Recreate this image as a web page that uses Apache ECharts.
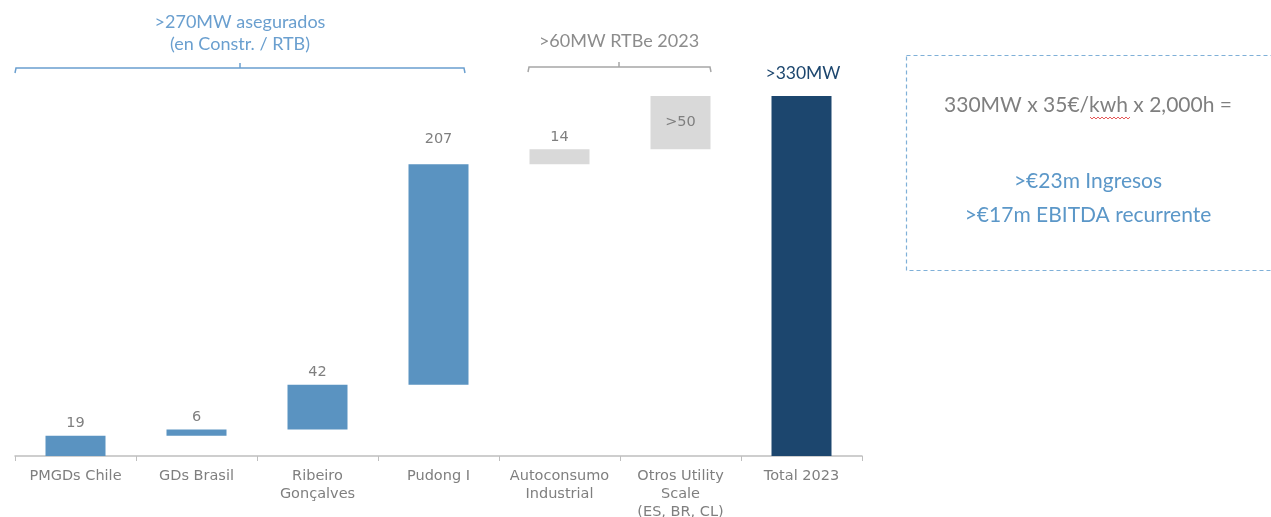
<!DOCTYPE html>
<html>
<head>
<meta charset="utf-8">
<script src="https://cdn.jsdelivr.net/npm/echarts@6/dist/echarts.min.js"></script>
<style>
  html, body { margin: 0; padding: 0; background: #fff; }
  #chart { width: 1271px; height: 517px; }
</style>
</head>
<body>
<div id="chart"></div>
<script>
const categories = ['PMGDs Chile', 'GDs Brasil', 'Ribeiro\nGonçalves', 'Pudong I', 'Autoconsumo\nIndustrial', 'Otros Utility\nScale\n(ES, BR, CL)', 'Total 2023'];
const steps = [19, 6, 42, 207, 14, 50];
const stepLabels = ['19', '6', '42', '207', '14', '>50'];
const totalLabel = '>330MW';

const BLUE = '#5a93c1';
const GREY = '#d9d9d9';
const NAVY = '#1c466e';

// waterfall: invisible base + visible step, total computed from steps
const total = steps.reduce((a, b) => a + b, 0);
const base = [];
let run = 0;
steps.forEach((v) => { base.push(run); run += v; });
base.push(0);

const visible = steps.map((v, i) => ({
  value: v,
  itemStyle: { color: i < 4 ? BLUE : GREY },
  label: i === 5
    ? { show: true, position: 'inside', formatter: stepLabels[i] }
    : { show: true, position: 'top', distance: i === 3 ? 17 : 5, formatter: stepLabels[i] },
}));
visible.push({ value: total, itemStyle: { color: NAVY }, label: { show: false } });

const chart = echarts.init(document.getElementById('chart'));

const option = {
  animation: false,
  grid: { left: 15, right: 409, top: 30, bottom: 61, outerBoundsMode: 'none' },
  xAxis: {
    type: 'category',
    data: categories,
    axisLine: { lineStyle: { color: '#bfbfbf', width: 1.5 } },
    axisTick: { show: true, length: 5, lineStyle: { color: '#bfbfbf' } },
    axisLabel: {
      interval: 0,
      color: '#7f7f7f',
      fontFamily: 'DejaVu Sans',
      fontSize: 14.5,
      lineHeight: 18,
      margin: 11,
    },
  },
  yAxis: {
    type: 'value',
    min: 0,
    max: 400,
    show: false,
  },
  series: [
    {
      type: 'bar',
      stack: 'wf',
      data: base,
      itemStyle: { color: 'transparent' },
      barWidth: 60,
      silent: true,
    },
    {
      type: 'bar',
      stack: 'wf',
      data: visible,
      barWidth: 60,
      label: {
        color: '#7f7f7f',
        fontFamily: 'DejaVu Sans',
        fontSize: 14.5,
      },
    },
  ],
  graphic: [
    // bracket over the secured projects
    {
      type: 'polyline',
      shape: { points: [[15, 73], [16, 68], [464, 68], [465, 73]] },
      style: { stroke: '#6a9fcf', lineWidth: 1.5, fill: null },
    },
    {
      type: 'line',
      shape: { x1: 240, y1: 68, x2: 240, y2: 63 },
      style: { stroke: '#6a9fcf', lineWidth: 1.5 },
    },
    {
      type: 'text',
      x: 240, y: 33,
      style: {
        text: '>270MW asegurados\n(en Constr. / RTB)',
        fill: '#6a9fcf',
        font: '18px Lato',
        lineHeight: 22,
        align: 'center',
        verticalAlign: 'middle',
      },
    },
    // bracket over RTBe 2023
    {
      type: 'polyline',
      shape: { points: [[528, 72], [529, 67], [710, 67], [711, 72]] },
      style: { stroke: '#a6a6a6', lineWidth: 1.5, fill: null },
    },
    {
      type: 'line',
      shape: { x1: 619, y1: 67, x2: 619, y2: 62 },
      style: { stroke: '#a6a6a6', lineWidth: 1.5 },
    },
    {
      type: 'text',
      x: 619, y: 41,
      style: {
        text: '>60MW RTBe 2023',
        fill: '#8c8c8c',
        font: '18px Lato',
        align: 'center',
        verticalAlign: 'middle',
      },
    },
    {
      type: 'text',
      x: 803, y: 73,
      style: {
        text: totalLabel,
        fill: NAVY,
        font: '17.5px Lato',
        align: 'center',
        verticalAlign: 'middle',
      },
    },
    // revenue box
    {
      type: 'rect',
      shape: { x: 906.5, y: 55.5, width: 400, height: 215 },
      style: { stroke: '#7fb0d8', lineWidth: 1.2, fill: null, lineDash: [4, 3] },
    },
    {
      type: 'text',
      x: 1088, y: 105,
      style: {
        text: '330MW x 35€/kwh x 2,000h =',
        fill: '#7f7f7f',
        font: '21px Lato',
        align: 'center',
        verticalAlign: 'middle',
      },
    },
    {
      type: 'polyline',
      shape: { points: [[1090, 117], [1092, 119], [1094, 117], [1096, 119], [1098, 117], [1100, 119], [1102, 117], [1104, 119], [1106, 117], [1108, 119], [1110, 117], [1112, 119], [1114, 117], [1116, 119], [1118, 117], [1120, 119], [1122, 117], [1124, 119], [1126, 117], [1128, 119], [1130, 117]] },
      style: { stroke: '#e03030', lineWidth: 0.8, fill: null },
    },
    {
      type: 'text',
      x: 1088, y: 181,
      style: {
        text: '>€23m Ingresos',
        fill: '#5b97c8',
        font: '21px Lato',
        align: 'center',
        verticalAlign: 'middle',
      },
    },
    {
      type: 'text',
      x: 1088, y: 215,
      style: {
        text: '>€17m EBITDA recurrente',
        fill: '#5b97c8',
        font: '21px Lato',
        align: 'center',
        verticalAlign: 'middle',
      },
    },
  ],
};

chart.setOption(option);
</script>
</body>
</html>
